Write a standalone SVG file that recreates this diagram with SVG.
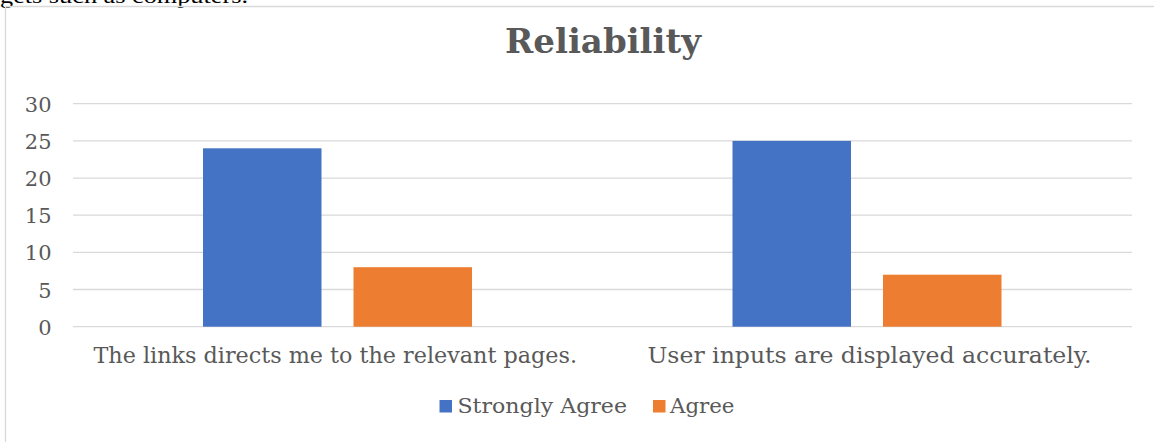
<svg xmlns="http://www.w3.org/2000/svg" width="1154" height="442" viewBox="0 0 1154 442">
<style>
.t{font-family:"DejaVu Serif","Liberation Serif",serif;fill:#595959}
.ax{font-size:21px;text-anchor:end}
.cat{font-size:21.5px}
.grid{stroke:#d9d9d9;stroke-width:1.3}
.blue{fill:#4472C4}
.orange{fill:#ED7D31}
</style>
<rect width="1154" height="442" fill="#ffffff"/>
<text x="0" y="2.5" font-family="Liberation Serif, serif" font-size="20" fill="#000" textLength="248" lengthAdjust="spacingAndGlyphs">gets such as computers.</text>
<g id="frame">
<line x1="5.5" y1="6.5" x2="1154" y2="6.5" stroke="#d9d9d9" stroke-width="1.3"/>
<line x1="5.5" y1="6.5" x2="5.5" y2="442" stroke="#d9d9d9" stroke-width="1.3"/>
</g>
<g id="title">
<text class="t" x="603" y="53.3" font-size="33" font-weight="bold" text-anchor="middle" textLength="196" lengthAdjust="spacingAndGlyphs">Reliability</text>
</g>
<g id="gridlines">
<line class="grid" x1="73" y1="103.7" x2="1132" y2="103.7"/>
<line class="grid" x1="73" y1="140.9" x2="1132" y2="140.9"/>
<line class="grid" x1="73" y1="178.1" x2="1132" y2="178.1"/>
<line class="grid" x1="73" y1="215.2" x2="1132" y2="215.2"/>
<line class="grid" x1="73" y1="252.4" x2="1132" y2="252.4"/>
<line class="grid" x1="73" y1="289.5" x2="1132" y2="289.5"/>
<line class="grid" x1="73" y1="326.7" x2="1132" y2="326.7"/>
</g>
<g id="y-axis">
<text class="t ax" x="51.5" y="111.7">30</text>
<text class="t ax" x="51.5" y="148.9">25</text>
<text class="t ax" x="51.5" y="186.1">20</text>
<text class="t ax" x="51.5" y="223.2">15</text>
<text class="t ax" x="51.5" y="260.4">10</text>
<text class="t ax" x="51.5" y="297.5">5</text>
<text class="t ax" x="51.5" y="334.7">0</text>
</g>
<g id="bars">
<rect class="blue" x="203" y="148.3" width="118.5" height="178.4"/>
<rect class="orange" x="353.5" y="267.2" width="118.5" height="59.5"/>
<rect class="blue" x="732.5" y="140.9" width="118.5" height="185.8"/>
<rect class="orange" x="883" y="274.7" width="118.5" height="52"/>
</g>
<g id="categories">
<text class="t cat" x="93.5" y="362.5" textLength="483.5" lengthAdjust="spacingAndGlyphs">The links directs me to the relevant pages.</text>
<text class="t cat" x="647.5" y="362.5" textLength="444" lengthAdjust="spacingAndGlyphs">User inputs are displayed accurately.</text>
</g>
<g id="legend">
<rect class="blue" x="439.5" y="400" width="12.5" height="12.5"/>
<text class="t" x="457.5" y="413.3" font-size="21" textLength="169.5" lengthAdjust="spacingAndGlyphs">Strongly Agree</text>
<rect class="orange" x="653" y="400" width="12.5" height="12.5"/>
<text class="t" x="670" y="413.3" font-size="21" textLength="64.5" lengthAdjust="spacingAndGlyphs">Agree</text>
</g>
</svg>
